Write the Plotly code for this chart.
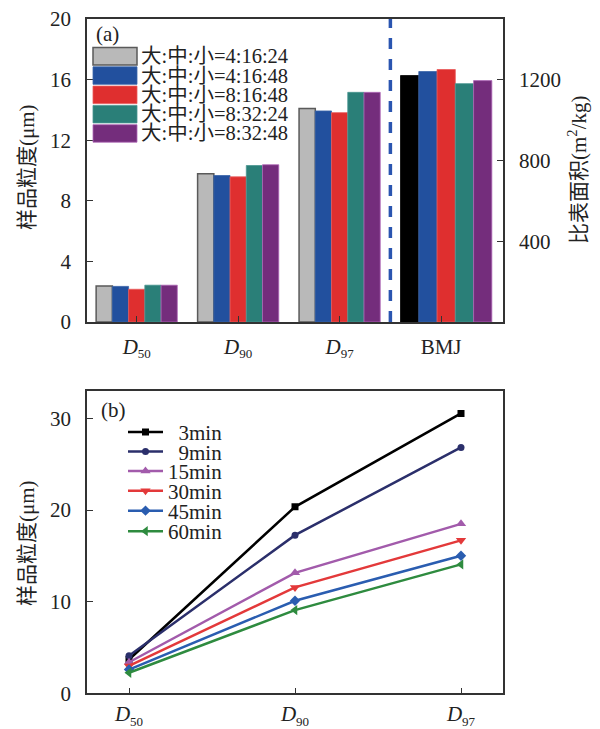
import plotly.graph_objects as go

W, H = 600, 729
def px(x): return x / W
def py(y): return 1 - y / H

FONT = "Liberation Serif, Times New Roman, Noto Sans CJK SC, serif"

def dlabel(sub):
    return f"<i>D</i><sub><span style='font-size:13px'>{sub}</span></sub>"

# ---------------- data (a) ----------------
categories_a = ["D50", "D90", "D97"]
cat_bmj = "BMJ"
subs_a = ["50", "90", "97"]
series_names = ["大:中:小=4:16:24", "大:中:小=4:16:48", "大:中:小=8:16:48",
                "大:中:小=8:32:24", "大:中:小=8:32:48"]
s1 = [2.38, 9.78, 14.10]
s2 = [2.35, 9.67, 13.93]
s3 = [2.16, 9.58, 13.82]
s4 = [2.43, 10.33, 15.16]
s5 = [2.43, 10.38, 15.16]
size_values = [s1, s2, s3, s4, s5]
bmj_area = [1220, 1240, 1250, 1180, 1195]

# ---------------- data (b) ----------------
categories_b = ["D50", "D90", "D97"]
subs_b = ["50", "90", "97"]
time_names = ["3min", "9min", "15min", "30min", "45min", "60min"]
t3 = [3.7, 20.36, 30.55]
t9 = [4.1, 17.27, 26.84]
t15 = [3.4, 13.16, 18.5]
t30 = [3.0, 11.57, 16.7]
t45 = [2.6, 10.11, 15.02]
t60 = [2.25, 9.09, 14.08]
time_values = [t3, t9, t15, t30, t45, t60]

tick_text_a = [dlabel(s) for s in subs_a] + ["BMJ"]
tick_text_b = [dlabel(s) for s in subs_b]

# ---------------- styles ----------------
bar_colors = ["#b9b9b9", "#22509e", "#df2f2f", "#2a7f78", "#742d7c"]
bar_edges = ["#5a5a5a", "#3a64aa", "#e85a5a", "#4a9690", "#b068b8"]
bmj_colors = ["#000000", "#22509e", "#df2f2f", "#2a7f78", "#742d7c"]
bmj_edges = ["#000000", "#3a64aa", "#e85a5a", "#4a9690", "#b068b8"]
line_colors = ["#000000", "#2b2f6b", "#a25bab", "#e3393a", "#2a5db0", "#2e8b3f"]
symbols = ["square", "circle", "triangle-up", "triangle-down", "diamond", "triangle-left"]
msizes = [7, 7, 9, 9, 8, 9]

fig = go.Figure()

for i, (name, vals) in enumerate(zip(series_names, size_values)):
    fig.add_trace(go.Bar(
        x=categories_a, y=vals, name=name, showlegend=False,
        marker=dict(color=bar_colors[i], line=dict(color=bar_edges[i], width=1.5 if i == 0 else 0.8)),
        xaxis="x", yaxis="y"))

bw = 0.18
for i, v in enumerate(bmj_area):
    fig.add_trace(go.Bar(
        x=[cat_bmj], y=[v], name=series_names[i], showlegend=False,
        width=bw, offset=-0.40 + bw * i,
        marker=dict(color=bmj_colors[i], line=dict(color=bmj_edges[i], width=0.8)),
        xaxis="x", yaxis="y2"))

for i, (name, vals) in enumerate(zip(time_names, time_values)):
    label = ("\u00a0\u00a0" + name) if len(name) == 4 else name
    fig.add_trace(go.Scatter(
        x=categories_b, y=vals, name=label, mode="lines+markers",
        line=dict(color=line_colors[i], width=2.5),
        marker=dict(symbol=symbols[i], size=msizes[i], color=line_colors[i]),
        xaxis="x2", yaxis="y3",
        legend="legend" if i == 0 else f"legend{i+1}"))

axis_common = dict(showline=True, linecolor="#333333", linewidth=1.5, ticks="inside",
                   ticklen=6, tickcolor="#333333", tickwidth=1.2, showgrid=False, zeroline=False,
                   automargin=False,
                   tickfont=dict(family=FONT, size=21, color="#222222"))

fig.update_layout(
    template="none",
    width=W, height=H, margin=dict(l=0, r=0, t=0, b=0, autoexpand=False),
    paper_bgcolor="white", plot_bgcolor="white",
    barmode="group", bargap=0.2, bargroupgap=0,
    font=dict(family=FONT, size=20, color="#222222"),
    xaxis=dict(domain=[px(87), px(503)], anchor="y", type="category",
               categoryorder="array", categoryarray=categories_a + [cat_bmj],
               tickvals=categories_a + [cat_bmj], ticktext=tick_text_a,
               range=[-0.49, 3.61], mirror=True, ticklabelstandoff=5, **axis_common),
    yaxis=dict(domain=[py(322), py(19)], anchor="x", range=[0, 20], dtick=4,
               ticklabelstandoff=10, **axis_common),
    yaxis2=dict(overlaying="y", side="right", anchor="x", range=[0, 1500],
                tickvals=[400, 800, 1200], ticklabelstandoff=10, **axis_common),
    xaxis2=dict(domain=[px(87), px(503)], anchor="y3", type="category",
                categoryorder="array", categoryarray=categories_b,
                tickvals=categories_b, ticktext=tick_text_b,
                range=[-0.253, 2.253], mirror=True, ticklabelstandoff=1, **axis_common),
    yaxis3=dict(domain=[py(693.4), py(391)], anchor="x2", range=[0, 33], tickvals=[0, 10, 20, 30],
                mirror=True, ticklabelstandoff=10, **axis_common),
)

# legends for (b): one per entry to control row spacing
row_y = [432.3, 451.8, 471.3, 491.0, 511.0, 531.5]
for i, yy in enumerate(row_y):
    key = "legend" if i == 0 else f"legend{i+1}"
    fig.update_layout({key: dict(x=px(123), y=py(yy), xanchor="left", yanchor="middle",
                                 bgcolor="rgba(0,0,0,0)", borderwidth=0, itemwidth=35,
                                 font=dict(family=FONT, size=21, color="#222222"))})

shapes = []
annotations = []
# dashed separator
shapes.append(dict(type="line", xref="x", yref="y domain", x0=2.5, x1=2.5, y0=0, y1=1,
                   line=dict(color="#2a55b0", width=3.5, dash="11px,10px")))
# legend (a)
for i, name in enumerate(series_names):
    y0 = 47.5 + 19.3 * i
    y1 = y0 + 17.5
    shapes.append(dict(type="rect", xref="paper", yref="paper",
                       x0=px(93), x1=px(137), y0=py(y1), y1=py(y0),
                       fillcolor=bar_colors[i],
                       line=dict(color=bar_edges[i], width=1.5 if i == 0 else 0.8)))
    annotations.append(dict(text=name, xref="paper", yref="paper", x=px(139), y=py((y0 + y1) / 2),
                            xanchor="left", yanchor="middle", showarrow=False,
                            font=dict(family=FONT, size=20.5, color="#222222")))

annotations += [
    dict(text="(a)", xref="paper", yref="paper", x=px(94), y=py(34), xanchor="left", yanchor="middle",
         showarrow=False, font=dict(family=FONT, size=21, color="#222222")),
    dict(text="(b)", xref="paper", yref="paper", x=px(99), y=py(410), xanchor="left", yanchor="middle",
         showarrow=False, font=dict(family=FONT, size=21, color="#222222")),
    dict(text="样品粒度(μm)", xref="paper", yref="paper", x=px(27), y=py(167), textangle=-90,
         xanchor="center", yanchor="middle", showarrow=False,
         font=dict(family=FONT, size=21, color="#222222")),
    dict(text="比表面积(m<sup>2</sup>/kg)", xref="paper", yref="paper", x=px(578), y=py(170), textangle=-90,
         xanchor="center", yanchor="middle", showarrow=False,
         font=dict(family=FONT, size=21, color="#222222")),
    dict(text="样品粒度(μm)", xref="paper", yref="paper", x=px(27), y=py(543), textangle=-90,
         xanchor="center", yanchor="middle", showarrow=False,
         font=dict(family=FONT, size=21, color="#222222")),
]
fig.update_layout(shapes=shapes, annotations=annotations)

fig.write_html("out.html")
